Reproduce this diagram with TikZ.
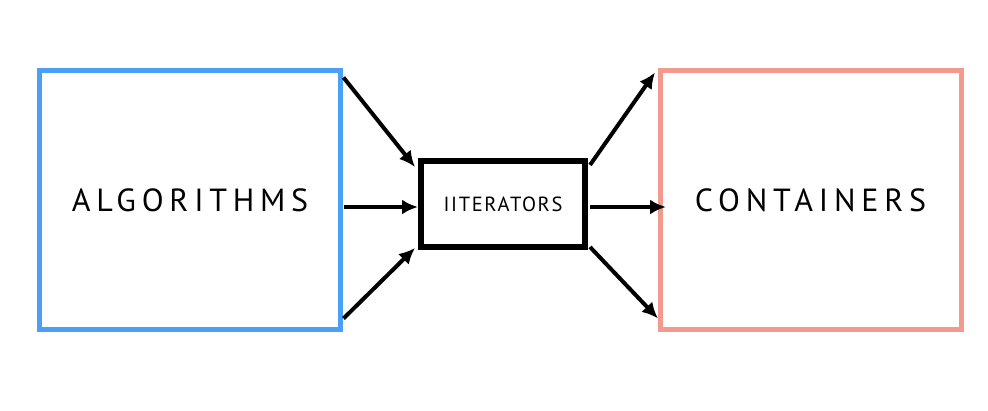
\documentclass[tikz,border=0pt]{standalone}
\usepackage{fontspec}
\usetikzlibrary{arrows.meta}
\newfontfamily\lblfont[LetterSpace=18]{PT Sans}
\newfontfamily\smallfont[LetterSpace=8]{PT Sans}
\definecolor{algblue}{HTML}{4BA0F5}
\definecolor{consalmon}{HTML}{F29A8E}
\tikzset{
  bigbox/.style={draw, line width=5pt, minimum width=301pt, minimum height=259pt, inner sep=0pt, outer sep=0pt, font=\lblfont\fontsize{32}{36}\selectfont},
  itbox/.style={draw=black, line width=6pt, minimum width=164pt, minimum height=86pt, inner sep=0pt, outer sep=0pt, font=\smallfont\fontsize{20.5}{24}\selectfont},
  conn/.style={line width=4pt, -{Latex[length=16pt,width=15pt]}}
}
\begin{document}
\begin{tikzpicture}[x=1pt,y=1pt]
\useasboundingbox[fill=white] (0,0) rectangle (988,411);
\node[bigbox, draw=algblue] (alg) at (190,211) {ALGORITHMS};
\node[bigbox, draw=consalmon] (con) at (810.5,211) {CONTAINERS};
\node[itbox] (it) at (503,207) {IITERATORS};
% left arrows
\draw[conn] ([shift={(3,-7)}]alg.north east) -- ([shift={(-6,-6)}]it.north west);
\draw[conn] ([shift={(3,-7)}]alg.east) -- ([shift={(-3,-3)}]it.west);
\draw[conn] ([shift={(3,11)}]alg.south east) -- ([shift={(-6,-1)}]it.south west);
% right arrows
\draw[conn] ([shift={(5,-4)}]it.north east) -- ([shift={(-5,-2)}]con.north west);
\draw[conn] ([shift={(5,-3)}]it.east) -- ([shift={(6,-7)}]con.west);
\draw[conn] ([shift={(5,0)}]it.south east) -- ([shift={(-2,11)}]con.south west);
\end{tikzpicture}
\end{document}
